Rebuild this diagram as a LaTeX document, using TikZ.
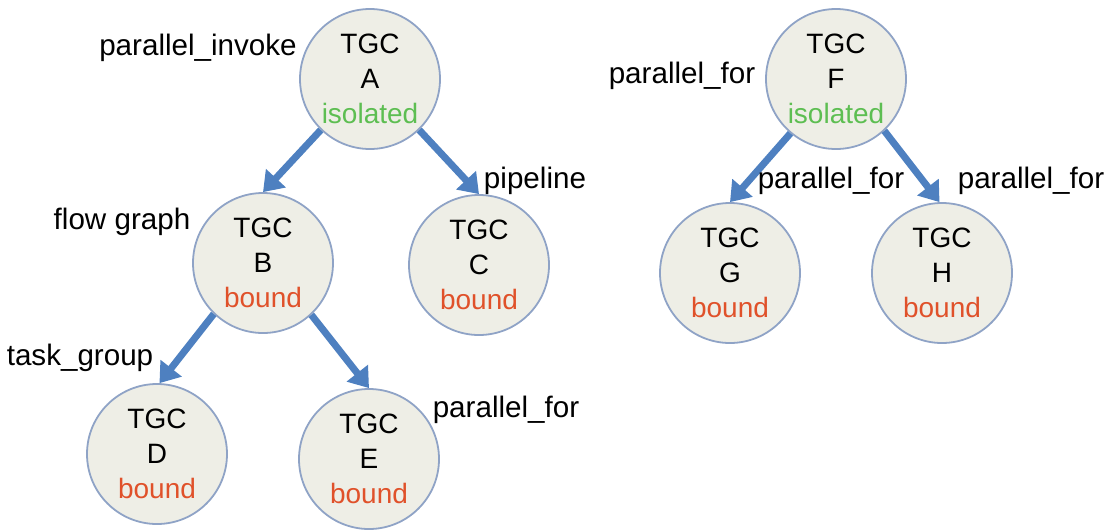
\documentclass[tikz,border=0pt]{standalone}
\usepackage{fontspec}
\setmainfont{Liberation Sans}
\usetikzlibrary{arrows.meta}

\definecolor{tgcfill}{HTML}{EEEEE6}
\definecolor{tgcedge}{HTML}{8FA3C6}
\definecolor{isogreen}{HTML}{5DBE52}
\definecolor{boundorange}{HTML}{E0512A}
\definecolor{arrowblue}{HTML}{4E80C0}

\tikzset{
  tgc/.style={circle, draw=tgcedge, line width=0.9pt, fill=tgcfill,
    minimum size=70pt, inner sep=0pt, align=center,
    font=\fontsize{14}{17.5}\selectfont},
  lbl/.style={font=\fontsize{14.8}{17}\selectfont, inner sep=0pt},
  link/.style={draw=arrowblue, line width=3.5pt,
    -{Triangle[length=9.5pt,width=13pt]}},
}
\newcommand{\iso}{{\color{isogreen}isolated}}
\newcommand{\bnd}{{\color{boundorange}bound}}

\begin{document}
\begin{tikzpicture}[x=0.5pt, y=-0.5pt]
  \useasboundingbox (0,0) rectangle (1113,531);

  % left tree
  \node[tgc] (A) at (370,79)  {TGC\\A\\\iso};
  \node[tgc] (B) at (263,263) {TGC\\B\\\bnd};
  \node[tgc] (C) at (479,265) {TGC\\C\\\bnd};
  \node[tgc] (D) at (157,454) {TGC\\D\\\bnd};
  \node[tgc] (E) at (369,459) {TGC\\E\\\bnd};

  % right tree
  \node[tgc] (F) at (836,79)  {TGC\\F\\\iso};
  \node[tgc] (G) at (730,273) {TGC\\G\\\bnd};
  \node[tgc] (H) at (942,273) {TGC\\H\\\bnd};

  % spawning relations
  \draw[link] (A.-134) -- (B.90);
  \draw[link] (A.-46)  -- (C.90);
  \draw[link] (B.-134) -- (D.88);
  \draw[link] (B.-47)  -- (E.90);
  \draw[link] (F.-130) -- (G.90);
  \draw[link] (F.-47)  -- (H.92);

  % algorithm labels
  \node[lbl] (lA) at (198,48)  {parallel\_invoke};
  \node[lbl] (lC) at (535,181) {pipeline};
  \node[lbl] (lB) at (122,222) {flow graph};
  \node[lbl] (lD) at (80,358)  {task\_group};
  \node[lbl] (lE) at (506,410) {parallel\_for};
  \node[lbl] (lF) at (682,76)  {parallel\_for};
  \node[lbl] (lG) at (831,181) {parallel\_for};
  \node[lbl] (lH) at (1031,181) {parallel\_for};
\end{tikzpicture}
\end{document}
